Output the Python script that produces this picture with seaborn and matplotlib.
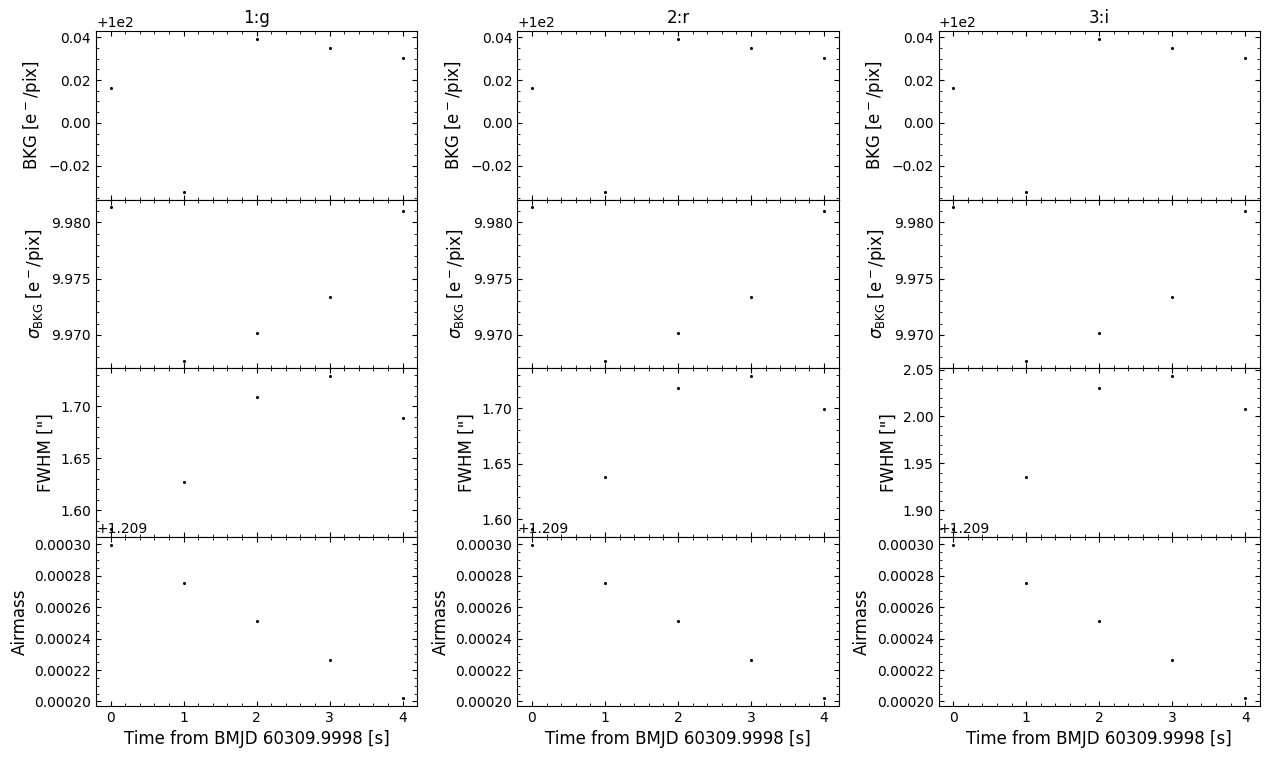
import numpy as np
import pandas as pd
import matplotlib
matplotlib.use("Agg")
import matplotlib.pyplot as plt
from matplotlib.ticker import MultipleLocator
import seaborn as sns

# ---- data ----
bands = ["1:g", "2:r", "3:i"]
time_s = [0, 1, 2, 3, 4]

bkg_g = [100.0164, 99.9677, 100.0393, 100.0351, 100.0304]
bkg_r = [100.0164, 99.9677, 100.0393, 100.0351, 100.0304]
bkg_i = [100.0164, 99.9677, 100.0393, 100.0351, 100.0304]

sbkg_g = [9.98134, 9.96771, 9.97018, 9.97339, 9.98098]
sbkg_r = [9.98134, 9.96771, 9.97018, 9.97339, 9.98098]
sbkg_i = [9.98134, 9.96771, 9.97018, 9.97339, 9.98098]

fwhm_g = [1.5815, 1.6273, 1.7087, 1.7291, 1.6883]
fwhm_r = [1.5907, 1.6382, 1.7182, 1.7291, 1.6991]
fwhm_i = [1.8793, 1.9356, 2.0302, 2.0432, 2.0076]

airmass_g = [1.2092996, 1.2092753, 1.2092513, 1.2092262, 1.2092022]
airmass_r = [1.2092996, 1.2092753, 1.2092513, 1.2092262, 1.2092022]
airmass_i = [1.2092996, 1.2092753, 1.2092513, 1.2092262, 1.2092022]

ylabels = [r"BKG [e$^-$/pix]", r"$\sigma_{\rm BKG}$ [e$^-$/pix]", 'FWHM ["]', "Airmass"]
xlabel = "Time from BMJD 60309.9998 [s]"

series = {
    "1:g": [bkg_g, sbkg_g, fwhm_g, airmass_g],
    "2:r": [bkg_r, sbkg_r, fwhm_r, airmass_r],
    "3:i": [bkg_i, sbkg_i, fwhm_i, airmass_i],
}

plt.rcParams.update({
    "xtick.direction": "in",
    "ytick.direction": "in",
    "xtick.top": True,
    "ytick.right": True,
    "font.family": ["DejaVu Sans"],
})

fig, axes = plt.subplots(4, 3, figsize=(12.7, 7.58), dpi=100, sharex="col")
fig.subplots_adjust(left=0.0756, right=0.992, top=0.959, bottom=0.069,
                    hspace=0.0, wspace=0.3115)

for j, band in enumerate(bands):
    for i in range(4):
        ax = axes[i, j]
        df = pd.DataFrame({"t": time_s, "v": series[band][i]})
        sns.scatterplot(data=df, x="t", y="v", ax=ax, color="black",
                        s=5, linewidth=0, legend=False)
        if i == 1:
            ax.yaxis.set_major_locator(MultipleLocator(0.005))
        ax.minorticks_on()
        ax.tick_params(which="both", direction="in", top=True, right=True)
        ax.set_ylabel(ylabels[i], fontsize=12)
        ax.set_xlabel("")
        ax.set_xticks([0, 1, 2, 3, 4])
        ax.set_xlim(-0.2, 4.2)
    axes[0, j].set_title(band, fontsize=12)
    axes[3, j].set_xlabel(xlabel, fontsize=12)

fig.savefig("out.png", dpi=100)
